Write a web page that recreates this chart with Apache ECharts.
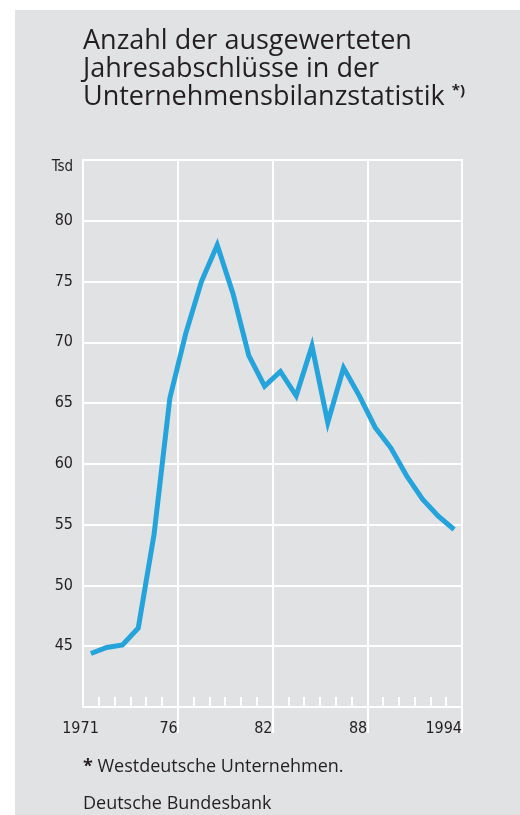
<!DOCTYPE html>
<html>
<head>
<meta charset="utf-8">
<script src="https://cdn.jsdelivr.net/npm/echarts@6/dist/echarts.min.js"></script>
<style>
  html, body { margin: 0; padding: 0; background: #fff; }
  #bg { position: absolute; left: 15px; top: 10px; width: 505px; height: 805px; background: #e1e2e4; }
  #chart { position: absolute; left: 0; top: 0; width: 520px; height: 815px; }
</style>
</head>
<body>
<div id="bg"></div>
<div id="chart"></div>
<script>
  // Jahre und Anzahl der Abschluesse (Tsd)
  var years = ['1971','1972','1973','1974','1975','1976','1977','1978','1979','1980','1981','1982',
               '1983','1984','1985','1986','1987','1988','1989','1990','1991','1992','1993','1994'];
  var values = [44.4, 44.9, 45.1, 46.5, 54.2, 65.4, 70.7, 75.0, 78.0, 74.0, 68.9, 66.4,
                67.6, 65.6, 69.7, 63.4, 67.9, 65.6, 63.0, 61.3, 59.0, 57.1, 55.7, 54.6];
  var labelYears = [1971, 1976, 1982, 1988, 1994];
  var labelTexts = ['1971', '76', '82', '88', '1994'];
  var gridYearIdx = [6, 12, 18];   // boundaries after 1976, 1982, 1988

  var txt = '#231f20';
  var font = 'Open Sans';
  var narrow = "'Liberation Sans Narrow', 'DejaVu Sans Condensed', Roboto, sans-serif";

  var chart = echarts.init(document.getElementById('chart'));
  chart.setOption({
    animation: false,
    title: [
      {
        text: 'Anzahl der ausgewerteten\nJahresabschlüsse in der\nUnternehmensbilanzstatistik {s|*)}',
        left: 78, top: 22,
        textStyle: {
          fontFamily: font, fontSize: 27, fontWeight: 'normal', color: txt, lineHeight: 28,
          rich: { s: { fontFamily: font, fontSize: 15, fontWeight: 'bold', color: txt, verticalAlign: 'top', lineHeight: 28, padding: [0, 0, 8, 0] } }
        }
      },
      {
        text: '{b|*} Westdeutsche Unternehmen.',
        left: 78, top: 753,
        textStyle: {
          fontFamily: font, fontSize: 18, fontWeight: 'normal', color: txt,
          rich: { b: { fontFamily: font, fontSize: 18, fontWeight: 'bold', color: txt } }
        }
      },
      {
        text: 'Deutsche Bundesbank',
        left: 78, top: 790,
        textStyle: { fontFamily: font, fontSize: 18, fontWeight: 'normal', color: txt }
      }
    ],
    grid: {
      left: 83, right: 58, top: 160, bottom: 108,
      show: true, borderColor: '#fff', borderWidth: 2, backgroundColor: 'transparent'
    },
    xAxis: [
      {
        type: 'category', data: years, boundaryGap: true, position: 'bottom',
        axisLine: { lineStyle: { color: '#fff', width: 2 } },
        axisTick: { show: true, inside: true, length: 10, interval: 0, lineStyle: { color: '#fff', width: 2 } },
        axisLabel: { show: false },
        splitLine: {
          show: true,
          interval: function (idx) { return gridYearIdx.indexOf(idx) >= 0; },
          lineStyle: { color: '#fff', width: 2 }
        }
      },
      {
        type: 'category', data: years, boundaryGap: true, position: 'bottom',
        axisLine: { show: false },
        axisTick: {
          show: true, inside: false, length: 26,
          interval: function (idx) { return gridYearIdx.indexOf(idx) >= 0; },
          lineStyle: { color: '#fff', width: 2 }
        },
        axisLabel: { show: false },
        splitLine: { show: false }
      },
      {
        type: 'value', min: 1970, max: 1994, interval: 1, position: 'bottom',
        axisLine: { show: false }, axisTick: { show: false }, splitLine: { show: false },
        axisLabel: {
          show: true, margin: 14, align: 'right',
          fontFamily: narrow, fontSize: 16, color: txt,
          formatter: function (v) {
            var i = labelYears.indexOf(v);
            return i >= 0 ? labelTexts[i] : '';
          }
        }
      }
    ],
    yAxis: {
      type: 'value', min: 40, max: 85, interval: 5,
      axisLine: { show: true, lineStyle: { color: '#fff', width: 2 } },
      axisTick: { show: false },
      splitLine: { show: true, lineStyle: { color: '#fff', width: 2 } },
      axisLabel: {
        margin: 10, fontFamily: narrow, fontSize: 16, color: txt,
        formatter: function (v) {
          if (v === 85) return '{t|Tsd}';
          if (v === 40) return '';
          return String(v);
        },
        rich: { t: { fontFamily: narrow, fontSize: 15, color: txt, padding: [15, 0, 0, 0] } }
      }
    },
    series: [
      {
        type: 'line', xAxisIndex: 0, yAxisIndex: 0,
        data: values,
        symbol: 'none',
        lineStyle: { color: '#25a3db', width: 5, join: 'miter' }
      }
    ]
  });
</script>
</body>
</html>
